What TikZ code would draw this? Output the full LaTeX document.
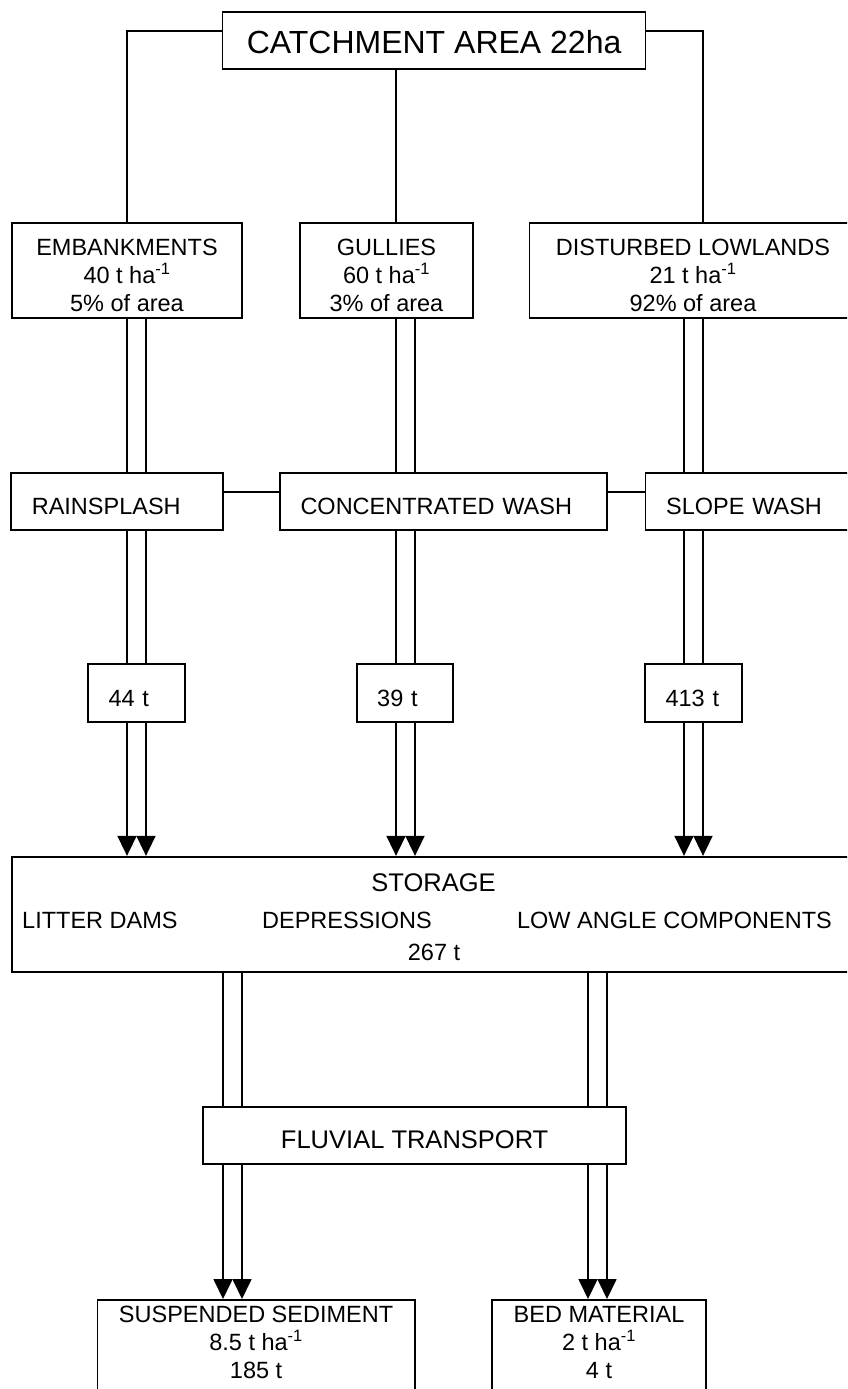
\documentclass[tikz,border=0pt]{standalone}
\usepackage{fontspec}
\setmainfont{Liberation Sans}
\usetikzlibrary{arrows.meta}
\newcommand\tstrut{\rule{0pt}{27pt}}
\tikzset{
flowbox/.style={draw,line width=1.7pt,inner sep=0pt,font=\fontsize{23.5}{28}\selectfont},
lbox/.style={flowbox,align=left,inner xsep=20.5pt,inner ysep=0pt},
txt/.style={inner sep=0pt,font=\fontsize{23.5}{28}\selectfont},
flow/.style={line width=1.7pt},
arrowline/.style={flow,-{Triangle[length=20pt,width=19pt]}}
}
\begin{document}
\begin{tikzpicture}[x=1pt,y=-1pt]
\useasboundingbox (0,0) rectangle (847,1389);
\clip (0,0) rectangle (847,1389);

\node[flowbox,minimum width=423pt,minimum height=57.6pt,font=\fontsize{32}{38}\selectfont] (catch) at (434.1,40.5) {\tstrut CATCHMENT AREA 22ha};

\node[flowbox,align=center,minimum width=230pt,minimum height=95.6pt] (emb) at (127,270.5) {\tstrut EMBANKMENTS\\40 t ha\textsuperscript{-1}\\5\% of area};
\node[flowbox,align=center,minimum width=173pt,minimum height=95.6pt] (gul) at (386.5,270.5) {\tstrut GULLIES\\60 t ha\textsuperscript{-1}\\3\% of area};
\node[flowbox,align=center,minimum width=327pt,minimum height=95.6pt] (dist) at (693,270.5) {\tstrut DISTURBED LOWLANDS\\21 t ha\textsuperscript{-1}\\92\% of area};

\node[lbox,text width=170.4pt,minimum height=57.3pt] (rain) at (117,501.35) {\tstrut RAINSPLASH};
\node[lbox,text width=285.7pt,minimum height=57.3pt] (conc) at (443.35,501.35) {\tstrut CONCENTRATED WASH};
\node[lbox,text width=174pt,minimum height=57.3pt] (slope) at (753.1,501.35) {\tstrut SLOPE WASH};

\node[lbox,text width=56pt,minimum height=57.7pt] (b44) at (136.5,693.15) {\tstrut 44 t};
\node[lbox,text width=55.6pt,minimum height=57.7pt] (b39) at (405,693.15) {\tstrut 39 t};
\node[lbox,text width=55.7pt,minimum height=57.7pt] (b413) at (693.35,693.15) {\tstrut 413 t};

\node[flowbox,minimum width=844pt,minimum height=115pt] (store) at (434,914.2) {};
\node[txt,anchor=base,font=\fontsize{25.5}{30}\selectfont] (storet) at (433.5,891.7) {STORAGE};
\node[txt,anchor=base west] (litter) at (22,928) {LITTER DAMS};
\node[txt,anchor=base] (depr) at (347,928) {DEPRESSIONS};
\node[txt,anchor=base east] (lowang) at (832,928) {LOW ANGLE COMPONENTS};
\node[txt,anchor=base] (total) at (434,960) {267 t};

\node[flowbox,minimum width=422.7pt,minimum height=57.6pt,font=\fontsize{25.5}{30}\selectfont] (fluv) at (414.65,1135.5) {\tstrut FLUVIAL TRANSPORT};

\node[flowbox,align=center,anchor=north,minimum width=317.4pt] (susp) at (256.1,1299) {\rule{0pt}{22.7pt}SUSPENDED SEDIMENT\\8.5 t ha\textsuperscript{-1}\\185 t\rule[-40pt]{0pt}{40pt}};
\node[flowbox,align=center,anchor=north,minimum width=214pt] (bed) at (599,1299) {\rule{0pt}{22.7pt}BED MATERIAL\\2 t ha\textsuperscript{-1}\\4 t\rule[-40pt]{0pt}{40pt}};

\draw[flow] ([yshift=9.5pt]catch.west) -| (emb.north);
\draw[flow] ([yshift=9.5pt]catch.east) -| (703,0 |- dist.north);
\draw[flow] (396,0 |- catch.south) -- (396,0 |- gul.north);

\draw[flow] ([yshift=9.65pt]rain.east) -- ([yshift=9.65pt]conc.west);
\draw[flow] ([yshift=9.65pt]conc.east) -- ([yshift=9.65pt]slope.west);

\foreach \x/\a/\b/\c in {127/emb/rain/b44,146/emb/rain/b44,396/gul/conc/b39,415/gul/conc/b39,684/dist/slope/b413,703/dist/slope/b413}{
\draw[flow] (\x,0 |- \a.south) -- (\x,0 |- \b.north);
\draw[flow] (\x,0 |- \b.south) -- (\x,0 |- \c.north);
\draw[arrowline] (\x,0 |- \c.south) -- (\x,0 |- store.north);
}

\foreach \x in {223,242,588,607}{
\draw[flow] (\x,0 |- store.south) -- (\x,0 |- fluv.north);
}
\foreach \x/\c in {223/susp,242/susp,588/bed,607/bed}{
\draw[arrowline] (\x,0 |- fluv.south) -- (\x,0 |- \c.north);
}
\end{tikzpicture}
\end{document}
